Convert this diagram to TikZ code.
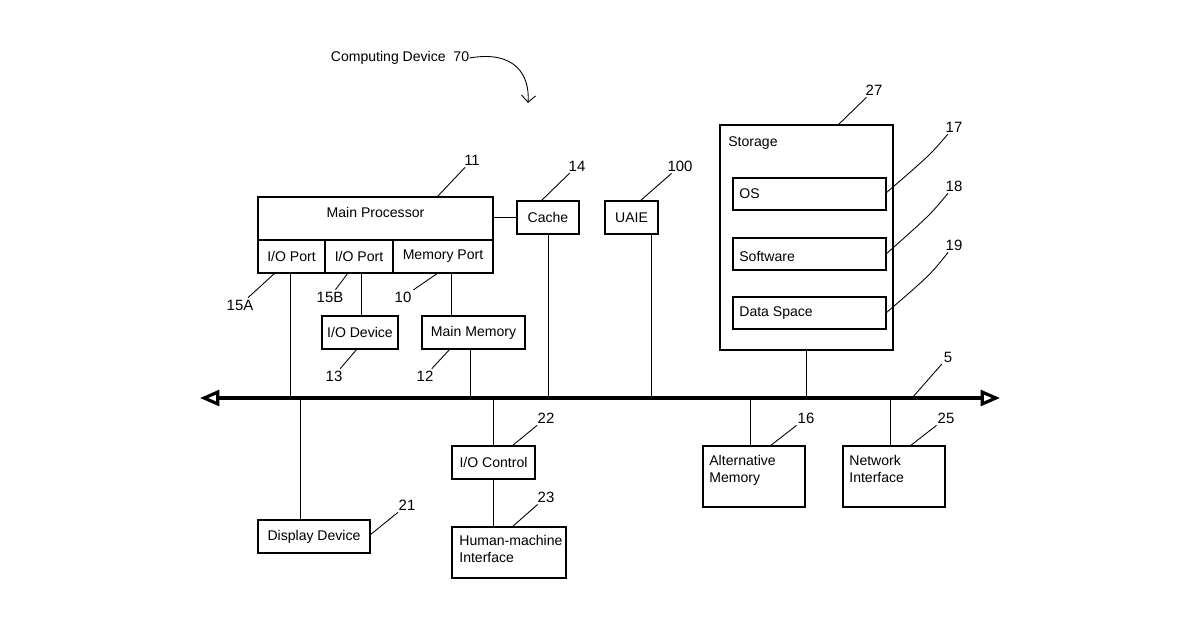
\documentclass[tikz,border=0pt]{standalone}
\usepackage{fontspec}
\setmainfont{Liberation Sans}
\usetikzlibrary{arrows.meta}

\begin{document}
\begin{tikzpicture}[x=0.02cm, y=-0.02cm, font=\fontsize{8}{9.5}\selectfont,
                    box/.style={draw, line width=0.6pt, inner sep=0pt},
                    txt/.style={inner sep=0pt, align=left},
                    tag/.style={inner sep=1pt, font=\fontsize{8.5}{10}\selectfont},
                    lead/.style={line width=0.5pt},
                    wire/.style={line width=0.5pt}]
    \useasboundingbox (0,0) rectangle (1200,630);
    % Title
    \node[txt] (title) at (400,58) {Computing Device\ \ 70};
    \draw[lead, -{Straight Barb[length=4pt]}] (title.east) .. controls (515,50) and (530,75) .. (528,103);
    % Main processor block
    \node[box, minimum width=235*0.02cm, minimum height=43*0.02cm] (mp) at (375.5,218.5) {};
    \node[txt] at (375.5,212) {Main Processor};
    \node[box, minimum width=67*0.02cm, minimum height=33*0.02cm] (iopa) at (291.5,256.5) {I/O Port};
    \node[box, minimum width=68*0.02cm, minimum height=33*0.02cm] (iopb) at (359,256.5) {I/O Port};
    \node[box, minimum width=100*0.02cm, minimum height=33*0.02cm] (memp) at (443,256.5) {Memory Port};
    \node[box, minimum width=62*0.02cm, minimum height=33*0.02cm] (cache) at (548,217.5) {Cache};
    \node[box, minimum width=53*0.02cm, minimum height=33*0.02cm] (uaie) at (631.5,217.5) {UAIE};
    % Storage
    \node[box, minimum width=173*0.02cm, minimum height=225*0.02cm] (stor) at (806.5,237.5) {};
    \node[txt, anchor=west] at (728,143) {Storage};
    \node[box, minimum width=153*0.02cm, minimum height=32*0.02cm] (os) at (809.5,194) {};
    \node[txt, anchor=west] at (739,194) {OS};
    \node[box, minimum width=153*0.02cm, minimum height=32*0.02cm] (sw) at (809.5,254) {};
    \node[txt, anchor=west] at (739,256) {Software};
    \node[box, minimum width=153*0.02cm, minimum height=32*0.02cm] (ds) at (809.5,313) {};
    \node[txt, anchor=west] at (739,313) {Data Space};
    % Devices above bus
    \node[box, minimum width=76*0.02cm, minimum height=33*0.02cm] (iod) at (360,332.5) {I/O Device};
    \node[box, minimum width=103*0.02cm, minimum height=33*0.02cm] (mem) at (473.5,332.5) {Main Memory};
    % Bus
    \coordinate (busl) at (200,398);
    \coordinate (busr) at (1000,398);
    \draw[line width=1.8pt, {Triangle[open, length=11pt, width=9pt]}-{Triangle[open, length=11pt, width=9pt]}] (busl) -- (busr);
    % Devices below bus
    \node[box, minimum width=83*0.02cm, minimum height=33*0.02cm] (ioc) at (493.5,462.5) {I/O Control};
    \node[box, minimum width=114*0.02cm, minimum height=51*0.02cm] (hmi) at (509,552.5) {};
    \node[txt, anchor=north west] at (459,535) {Human-machine\\Interface};
    \node[box, minimum width=112*0.02cm, minimum height=33*0.02cm] (disp) at (314,536.5) {Display Device};
    \node[box, minimum width=102*0.02cm, minimum height=61*0.02cm] (alt) at (754,476.5) {};
    \node[txt, anchor=north west] at (709,455) {Alternative\\Memory};
    \node[box, minimum width=102*0.02cm, minimum height=61*0.02cm] (net) at (894,476.5) {};
    \node[txt, anchor=north west] at (849,455) {Network\\Interface};
    % Wires
    \draw[wire] (mp.east |- cache) -- (cache.west);
    \draw[wire] (290,273) -- (290,398);
    \draw[wire] (361,273) -- (361,316);
    \draw[wire] (451,273) -- (451,316);
    \draw[wire] (470,349) -- (470,398);
    \draw[wire] (cache.south) -- (cache.south |- busl);
    \draw[wire] (651,234) -- (651,398);
    \draw[wire] (stor.south) -- (stor.south |- busl);
    \draw[wire] (300,398) -- (300,520);
    \draw[wire] (ioc.north |- busl) -- (ioc.north);
    \draw[wire] (ioc.south) -- (ioc.south |- hmi.north);
    \draw[wire] (750,398) -- (750,446);
    \draw[wire] (890,398) -- (890,446);
    % Reference numerals
    \node[tag] (n11) at (472,160) {11};
    \draw[lead] (n11) -- (437,197);
    \node[tag] (n14) at (577,166) {14};
    \draw[lead] (n14) -- (541,201);
    \node[tag] (n100) at (680,166) {100};
    \draw[lead] (n100) -- (640,201);
    \node[tag] (n27) at (874,90) {27};
    \draw[lead] (n27) -- (838,125);
    \node[tag] (n17) at (954,127) {17};
    \draw[lead] (n17) .. controls (930,155) .. (886,193);
    \node[tag] (n18) at (954,186) {18};
    \draw[lead] (n18) .. controls (930,215) .. (886,254);
    \node[tag] (n19) at (954,245) {19};
    \draw[lead] (n19) .. controls (930,275) .. (886,313);
    \node[tag] (n5) at (948,357) {5};
    \draw[lead] (n5) -- (912,398);
    \node[tag] (n15a) at (240,305) {15A};
    \draw[lead] (n15a) -- (275,273);
    \node[tag] (n15b) at (330,297) {15B};
    \draw[lead] (n15b) -- (348,273);
    \node[tag] (n10) at (403,297) {10};
    \draw[lead] (n10) -- (438,273);
    \node[tag] (n13) at (334,376) {13};
    \draw[lead] (n13) -- (357,349);
    \node[tag] (n12) at (425,376) {12};
    \draw[lead] (n12) -- (450,349);
    \node[tag] (n22) at (546,418) {22};
    \draw[lead] (n22) -- (512,446);
    \node[tag] (n23) at (546,497) {23};
    \draw[lead] (n23) -- (512,527);
    \node[tag] (n21) at (407,505) {21};
    \draw[lead] (n21) -- (370,535);
    \node[tag] (n16) at (806,418) {16};
    \draw[lead] (n16) -- (770,446);
    \node[tag] (n25) at (946,418) {25};
    \draw[lead] (n25) -- (910,446);
\end{tikzpicture}
\end{document}
